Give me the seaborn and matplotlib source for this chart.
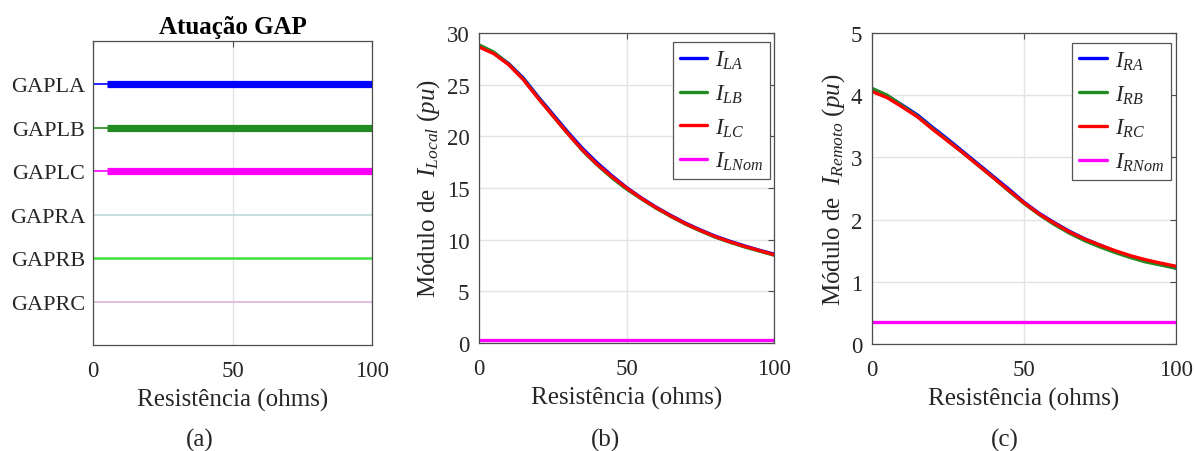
import matplotlib
matplotlib.use("Agg")
import matplotlib.pyplot as plt
import seaborn as sns

# Fault resistance sweep (ohms)
resistance = [0, 5, 10, 15, 20, 25, 30, 35, 40, 45, 50,
              55, 60, 65, 70, 75, 80, 85, 90, 95, 100]

# Local-terminal phase current magnitudes (pu)
i_la = [28.80, 28.10, 27.05, 25.65, 23.85, 22.15, 20.45, 18.85, 17.45, 16.20, 15.05,
        14.05, 13.15, 12.35, 11.60, 10.95, 10.35, 9.85, 9.40, 8.98, 8.60]
i_lb = [28.85, 28.15, 27.00, 25.55, 23.75, 22.00, 20.30, 18.65, 17.25, 16.00, 14.90,
        13.95, 13.05, 12.25, 11.50, 10.85, 10.25, 9.75, 9.30, 8.90, 8.50]
i_lc = [28.65, 28.00, 26.95, 25.50, 23.70, 22.00, 20.30, 18.70, 17.30, 16.10, 15.00,
        14.00, 13.10, 12.30, 11.55, 10.90, 10.30, 9.80, 9.35, 8.95, 8.55]
i_lnom = 0.30

# Remote-terminal phase current magnitudes (pu)
i_ra = [4.10, 3.99, 3.84, 3.68, 3.48, 3.29, 3.09, 2.89, 2.69, 2.49, 2.28,
        2.10, 1.95, 1.81, 1.69, 1.59, 1.49, 1.41, 1.34, 1.28, 1.22]
i_rb = [4.11, 4.00, 3.83, 3.66, 3.46, 3.27, 3.07, 2.87, 2.67, 2.46, 2.26,
        2.08, 1.92, 1.78, 1.66, 1.56, 1.47, 1.39, 1.32, 1.27, 1.22]
i_rc = [4.06, 3.96, 3.81, 3.65, 3.45, 3.26, 3.07, 2.87, 2.67, 2.47, 2.27,
        2.09, 1.94, 1.80, 1.685, 1.59, 1.50, 1.42, 1.355, 1.30, 1.25]
i_rnom = 0.35

# GAP protection signals and the resistance from which each one is active
gap_signals = ["GAPLA", "GAPLB", "GAPLC", "GAPRA", "GAPRB", "GAPRC"]
gap_active_from = [5, 5, 5, None, None, None]
gap_colors = ["#0000ff", "#228b22", "#ff00ff", "#c6dde0", "#3fe03f", "#dcb4dc"]
gap_thin_lw = [1.2, 1.2, 1.2, 1.4, 1.8, 1.2]

phase_colors = ["#0000ff", "#228b22", "#ff0000", "#ff00ff"]

sns.set_theme(style="white")
plt.rcParams["font.family"] = ["Liberation Serif", "DejaVu Serif"]
plt.rcParams["mathtext.fontset"] = "custom"
plt.rcParams["mathtext.rm"] = "Liberation Serif"
plt.rcParams["mathtext.it"] = "Liberation Serif:italic"
plt.rcParams["mathtext.bf"] = "Liberation Serif:bold"

TXT = "#262626"
SPINE = "#4d4d4d"
GRID = "#e3e3e3"
TICK_FS = 16.5
LABEL_FS = 18

fig = plt.figure(figsize=(11.95, 4.52), dpi=100)
W, H = 1195, 452


def place(left, right, top, bottom):
    return fig.add_axes([left / W, 1 - bottom / H, (right - left) / W, (bottom - top) / H])


def style_axes(ax):
    for s in ax.spines.values():
        s.set_visible(True)
        s.set_color(SPINE)
        s.set_linewidth(0.9)
    ax.tick_params(direction="in", length=4, width=0.8, color=SPINE,
                   top=True, right=True, labelsize=TICK_FS, labelcolor=TXT, pad=7)
    ax.tick_params(axis="x", pad=11)
    ax.set_xlim(0, 100)
    ax.set_xticks([0, 50, 100])
    ax.set_xlabel("Resistência (ohms)", fontsize=LABEL_FS, color=TXT, labelpad=5)


# (a) GAP signals
ax_a = place(93, 372, 42, 346)
levels = list(range(len(gap_signals), 0, -1))
for name, lvl, start, col, lw in zip(gap_signals, levels, gap_active_from, gap_colors, gap_thin_lw):
    sns.lineplot(x=[resistance[0], resistance[-1]], y=[lvl, lvl], color=col, lw=lw, ax=ax_a)
    if start is not None:
        sns.lineplot(x=[start, resistance[-1]], y=[lvl, lvl], color=col, lw=5.2,
                     solid_capstyle="butt", ax=ax_a)
style_axes(ax_a)
ax_a.set_ylim(0, len(gap_signals) + 1)
ax_a.set_yticks(levels)
ax_a.set_yticklabels(gap_signals, fontsize=16)
ax_a.tick_params(axis="y", length=0, pad=5.5)
ax_a.xaxis.grid(True, color=GRID, lw=1)
ax_a.yaxis.grid(False)
ax_a.set_title("Atuação GAP", fontsize=18, fontweight="bold", color="black", pad=6)


def current_panel(ax, series, labels, nominal, nom_label, ymax, ylabel, legend_anchor):
    for vals, col, lab in zip(series, phase_colors[:3], labels):
        sns.lineplot(x=resistance, y=vals, color=col, lw=2.4, label=lab, ax=ax)
    sns.lineplot(x=[resistance[0], resistance[-1]], y=[nominal, nominal],
                 color=phase_colors[3], lw=2.4, label=nom_label, ax=ax)
    style_axes(ax)
    ax.set_ylim(0, ymax)
    ax.grid(True, color=GRID, lw=1)
    ax.set_ylabel(ylabel, fontsize=LABEL_FS, color=TXT, labelpad=3)
    leg = ax.legend(loc="upper right", bbox_to_anchor=legend_anchor, borderaxespad=0,
                    fontsize=16.5, frameon=True, fancybox=False, framealpha=1,
                    edgecolor="#555555", handlelength=1.2, handletextpad=0.35,
                    labelspacing=0.5, borderpad=0.3)
    leg.get_frame().set_linewidth(0.9)
    for t in leg.get_texts():
        t.set_color(TXT)


ax_b = place(479, 774, 34, 344)
current_panel(ax_b, [i_la, i_lb, i_lc], [r"$I_{LA}$", r"$I_{LB}$", r"$I_{LC}$"],
              i_lnom, r"$I_{LNom}$", 30, r"Módulo de  $I_{Local}\ (pu)$", (0.9875, 0.971))
ax_b.set_yticks(range(0, 31, 5))

ax_c = place(872, 1176, 34, 345)
current_panel(ax_c, [i_ra, i_rb, i_rc], [r"$I_{RA}$", r"$I_{RB}$", r"$I_{RC}$"],
              i_rnom, r"$I_{RNom}$", 5, r"Módulo de  $I_{Remoto}\ (pu)$", (0.9826, 0.969))
ax_c.set_yticks(range(0, 6))

for x, cap in [(200, "(a)"), (605, "(b)"), (1005, "(c)")]:
    fig.text(x / W, 1 - 440 / H, cap, ha="center", va="center", fontsize=LABEL_FS, color=TXT)

fig.savefig("out.png", dpi=100, facecolor="white")
